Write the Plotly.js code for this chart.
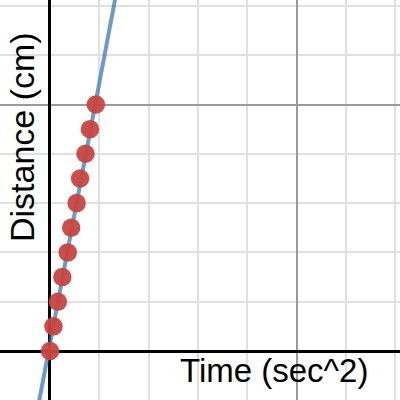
<!DOCTYPE html>
<html>
<head>
<meta charset="utf-8">
<script src="https://cdn.plot.ly/plotly-3.0.1.min.js"></script>
<style>html,body{margin:0;padding:0;background:#fff}#chart{width:400px;height:400px}</style>
</head>
<body>
<div id="chart"></div>
<script>
// Data
const timeSq = [0, 0.07, 0.16, 0.25, 0.36, 0.43, 0.54, 0.61, 0.72, 0.81, 0.93];
const distance = [0, 5, 10, 15, 20, 25, 30, 35, 40, 45, 50];
const fitSlope = 52.9;
const fitIntercept = 1.48;
const fitX = [-0.5, 1.6];
const xTitle = "Time (sec^2)";
const yTitle = "Distance (cm)";

const fitY = fitX.map(x => fitSlope * x + fitIntercept);
const font = "Liberation Sans, Arial, sans-serif";

const traces = [
  {x: fitX, y: fitY, mode: "lines", type: "scatter",
   line: {color: "rgba(45,112,179,0.7)", width: 4}, hoverinfo: "skip"},
  {x: timeSq, y: distance, mode: "markers", type: "scatter",
   marker: {color: "rgba(199,68,64,0.95)", size: 18.5, line: {width: 0}}}
];

const layout = {
  width: 400, height: 400,
  margin: {l: 0, r: 0, t: 0, b: 0},
  paper_bgcolor: "#fff", plot_bgcolor: "#fff",
  showlegend: false,
  xaxis: {range: [-1.014, 7.099], dtick: 5, tick0: 0, showgrid: true,
    gridcolor: "#9a9a9a", gridwidth: 2,
    minor: {dtick: 1, tick0: 0, showgrid: true, gridcolor: "#e0e0e0", gridwidth: 2},
    zeroline: true, zerolinecolor: "#000", zerolinewidth: 3,
    showticklabels: false, ticks: "", showline: false, fixedrange: true},
  yaxis: {range: [-9.94, 71.2], dtick: 50, tick0: 0, showgrid: true,
    gridcolor: "#9a9a9a", gridwidth: 2,
    minor: {dtick: 10, tick0: 0, showgrid: true, gridcolor: "#e0e0e0", gridwidth: 2},
    zeroline: true, zerolinecolor: "#000", zerolinewidth: 3,
    showticklabels: false, ticks: "", showline: false, fixedrange: true},
  shapes: [
    {type: "rect", xref: "paper", yref: "paper", layer: "between",
     x0: 0.44, x1: 0.93, y0: 0.02, y1: 0.115, fillcolor: "#fff", line: {width: 0}},
    {type: "rect", xref: "paper", yref: "paper", layer: "between",
     x0: 0.02, x1: 0.09, y0: 0.37, y1: 0.94, fillcolor: "#fff", line: {width: 0}}
  ],
  annotations: [
    {text: xTitle, xref: "paper", yref: "paper", x: 0.685, y: 0.075,
     xanchor: "center", yanchor: "middle", showarrow: false,
     font: {family: font, size: 33, color: "#000"}},
    {text: yTitle, xref: "paper", yref: "paper", x: 0.055, y: 0.6575,
     xanchor: "center", yanchor: "middle", showarrow: false, textangle: -90,
     font: {family: font, size: 34, color: "#000"}}
  ]
};

Plotly.newPlot("chart", traces, layout, {displayModeBar: false, staticPlot: true});
</script>
</body>
</html>
